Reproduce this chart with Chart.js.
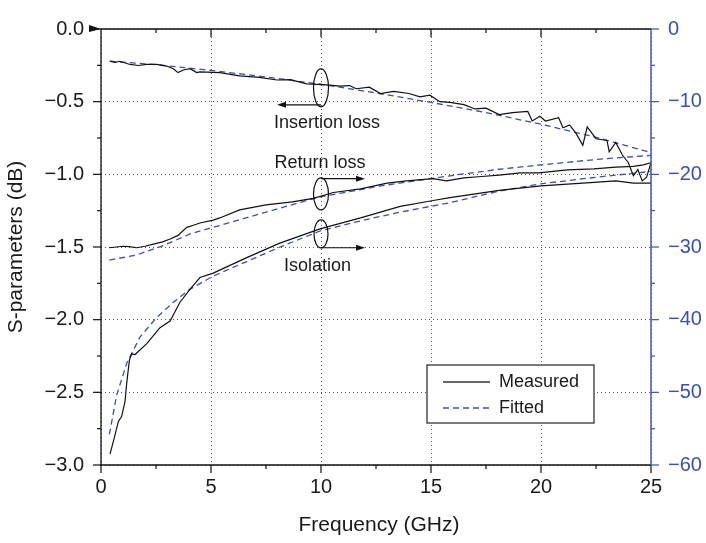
<!DOCTYPE html>
<html>
<head>
<meta charset="utf-8">
<script src="https://cdn.jsdelivr.net/npm/chart.js@4.4.1/dist/chart.umd.min.js"></script>
<style>
  body { margin: 0; background: #fff; }
  #wrap { width: 706px; height: 543px; }
</style>
</head>
<body>
<div id="wrap"><canvas id="myChart"></canvas></div>
<script>
// ---- data ----
const insMeasX = [0.4,0.64,0.86,1.32,1.7,2.08,2.53,2.98,3.29,3.5,3.74,4.05,4.35,4.5,5.4,6.3,7.2,8.0,8.6,9.35,10.26,10.86,11.3,11.6,12.2,12.7,13.3,14.0,14.5,14.95,15.4,15.86,16.5,17.0,17.5,18.1,18.7,19.4,19.6,19.95,20.2,20.8,21.0,21.3,21.6,21.9,22.1,22.5,23.0,23.1,23.4,23.7,23.97,24.2,24.4,24.6,24.8,25.0];
const insMeas = [-0.222,-0.229,-0.222,-0.244,-0.251,-0.244,-0.244,-0.255,-0.273,-0.30,-0.282,-0.273,-0.30,-0.295,-0.30,-0.322,-0.333,-0.351,-0.349,-0.378,-0.384,-0.393,-0.389,-0.411,-0.40,-0.444,-0.429,-0.444,-0.467,-0.455,-0.50,-0.505,-0.52,-0.55,-0.545,-0.589,-0.575,-0.567,-0.633,-0.60,-0.633,-0.61,-0.68,-0.66,-0.72,-0.80,-0.673,-0.755,-0.767,-0.845,-0.78,-0.867,-0.92,-1.01,-0.967,-1.045,-1.02,-0.92];

const insFitX = [0.4,2.5,5,7.5,10,12.5,15,17.5,20,22.5,25];
const insFit = [-0.222,-0.245,-0.285,-0.33,-0.38,-0.44,-0.505,-0.575,-0.655,-0.745,-0.85];

const retMeasX = [0.38,0.7,1.0,1.3,1.62,2.0,2.38,2.8,3.14,3.5,3.9,4.2,4.5,5.1,5.4,6.3,7.5,8.7,9.65,10.56,11.8,13.0,13.9,15.1,15.7,16.5,17.3,18.1,19.05,19.9,21.2,22.4,23.4,24.2,24.65,25.0];
const retMeas = [-30.1,-30.0,-29.9,-29.95,-30.1,-29.9,-29.6,-29.3,-28.9,-28.4,-27.3,-27.0,-26.7,-26.3,-26.0,-24.9,-24.2,-23.8,-23.3,-22.5,-22.0,-21.2,-20.9,-20.6,-20.9,-20.5,-20.3,-20.1,-19.8,-19.8,-19.4,-19.25,-19.0,-18.9,-18.7,-18.4];

const retFitX = [0.38,1.62,2.83,4.05,5.56,7.38,9.95,12.7,15.86,18.1,20,22.7,25];
const retFit = [-31.8,-31.1,-29.8,-28.2,-26.9,-25.3,-23.1,-21.6,-20.2,-19.3,-18.7,-17.9,-17.4];

const isoMeasX = [0.41,0.6,0.79,0.94,1.09,1.17,1.29,1.39,1.55,2.08,2.68,3.14,3.59,4.05,4.5,5.1,6.6,8.1,9.95,11.8,13.6,15.1,15.86,18.1,20,21.9,23.4,24.2,25];
const isoMeas = [-58.5,-56.3,-54,-53.3,-51.3,-48.7,-45.6,-44.7,-44.8,-43.3,-41.1,-40.2,-37.6,-35.8,-34.2,-33.6,-31.5,-29.5,-27.5,-26.0,-24.4,-23.6,-23.2,-22.2,-21.6,-21.2,-20.9,-21.2,-21.2];

const isoFitX = [0.38,0.71,1.17,1.77,2.53,3.29,4.05,5.1,6.62,8.14,9.95,11.8,13.6,15.86,18.1,20,22.5,25];
const isoFit = [-55.8,-50.4,-46,-42.4,-39.7,-37.6,-35.8,-34.0,-32.0,-30.0,-27.8,-26.4,-25.2,-23.9,-22.3,-21.3,-20.4,-19.6];

const xTicks = [0, 5, 10, 15, 20, 25];
const leftTicks = [0, -0.5, -1.0, -1.5, -2.0, -2.5, -3.0];
const rightTicks = [0, -10, -20, -30, -40, -50, -60];

const FONT = '"Liberation Sans", Arial, Helvetica, sans-serif';
const BLACK = '#111';
const BLUE = '#3b4fae';

function pairs(xs, ys) {
  let out = [];
  for (let i = 0; i < xs.length; i++) out.push({x: xs[i], y: ys[i]});
  return out;
}

function minusSign(s) {
  return String(s).replace('-', '\u2212');
}

// ---- extra drawing: frame, ticks, annotations, legend ----
const decor = {
  id: 'decor',
  afterDraw(chart) {
    const ctx = chart.ctx;
    const a = chart.chartArea;
    const xs = chart.scales.x, ys = chart.scales.y, y2 = chart.scales.y2;
    ctx.save();

    // frame lines
    ctx.lineWidth = 1.3;
    ctx.strokeStyle = BLACK;
    ctx.beginPath();
    ctx.moveTo(a.left, a.top); ctx.lineTo(a.right, a.top);
    ctx.moveTo(a.left, a.top); ctx.lineTo(a.left, a.bottom);
    ctx.moveTo(a.left - 1, a.bottom); ctx.lineTo(a.right, a.bottom);
    ctx.stroke();

    // little marker at top-left
    ctx.fillStyle = BLACK;
    ctx.beginPath();
    ctx.moveTo(a.left - 12, a.top - 4);
    ctx.lineTo(a.left, a.top);
    ctx.lineTo(a.left - 12, a.top + 3);
    ctx.closePath();
    ctx.fill();

    // x ticks, bottom outward, top inward
    ctx.lineWidth = 1.2;
    for (let v = 0; v <= 25; v += 2.5) {
      const px = xs.getPixelForValue(v);
      const len = (v % 5 === 0) ? 8 : 4;
      ctx.beginPath();
      ctx.moveTo(px, a.bottom); ctx.lineTo(px, a.bottom + len);
      if (v > 0 && v < 25) { ctx.moveTo(px, a.top); ctx.lineTo(px, a.top + len); }
      ctx.stroke();
    }
    // left ticks
    for (let v = 0; v >= -3; v -= 0.25) {
      const py = ys.getPixelForValue(v);
      const len = (Math.abs(v * 2) % 1 === 0) ? 8 : 4;
      ctx.beginPath();
      ctx.moveTo(a.left, py); ctx.lineTo(a.left - len, py);
      ctx.stroke();
    }
    // right axis in blue
    ctx.strokeStyle = BLUE;
    ctx.lineWidth = 1.4;
    ctx.beginPath();
    ctx.moveTo(a.right, a.top); ctx.lineTo(a.right, a.bottom);
    ctx.stroke();
    ctx.lineWidth = 1.2;
    for (let v = 0; v >= -60; v -= 5) {
      const py = y2.getPixelForValue(v);
      const len = (v % 10 === 0) ? 8 : 4;
      ctx.beginPath();
      ctx.moveTo(a.right, py); ctx.lineTo(a.right + len, py);
      ctx.stroke();
    }

    // axis titles
    ctx.fillStyle = '#1a1a1a';
    ctx.font = '21px ' + FONT;
    ctx.textAlign = 'center';
    ctx.textBaseline = 'middle';
    ctx.fillText('Frequency (GHz)', (a.left + a.right) / 2 + 3, 525);
    ctx.save();
    ctx.translate(16, (a.top + a.bottom) / 2);
    ctx.rotate(-Math.PI / 2);
    ctx.fillText('S-parameters (dB)', 0, 0);
    ctx.restore();

    // ellipses and arrows
    function ellipse(cx, cy, rx, ry) {
      ctx.beginPath();
      ctx.ellipse(cx, cy, rx, ry, 0, 0, Math.PI * 2);
      ctx.stroke();
    }
    function arrow(x1, y, x2) {
      const dir = Math.sign(x2 - x1);
      ctx.beginPath();
      ctx.moveTo(x1, y); ctx.lineTo(x2 - dir * 7, y);
      ctx.stroke();
      ctx.beginPath();
      ctx.moveTo(x2, y);
      ctx.lineTo(x2 - dir * 9, y - 3);
      ctx.lineTo(x2 - dir * 9, y + 3);
      ctx.closePath();
      ctx.fill();
    }
    ctx.strokeStyle = BLACK;
    ctx.fillStyle = BLACK;
    ctx.lineWidth = 1.2;
    const cx = xs.getPixelForValue(10);

    ellipse(cx, ys.getPixelForValue(-0.405), 7.5, 19);
    arrow(cx, ys.getPixelForValue(-0.522), xs.getPixelForValue(8.0));

    ellipse(cx, y2.getPixelForValue(-22.7), 7.5, 16);
    arrow(cx, y2.getPixelForValue(-20.6), xs.getPixelForValue(12.0));

    ellipse(cx, y2.getPixelForValue(-28.2), 7, 14);
    arrow(cx, y2.getPixelForValue(-30.1), xs.getPixelForValue(12.0));

    ctx.fillStyle = '#1a1a1a';
    ctx.font = '18px ' + FONT;
    ctx.fillText('Insertion loss', xs.getPixelForValue(10.27), ys.getPixelForValue(-0.647));
    ctx.fillText('Return loss', xs.getPixelForValue(9.95), y2.getPixelForValue(-18.44));
    ctx.fillText('Isolation', xs.getPixelForValue(9.84), y2.getPixelForValue(-32.6));

    // legend box
    ctx.strokeStyle = '#222';
    ctx.lineWidth = 1.2;
    ctx.fillStyle = '#fff';
    ctx.fillRect(427, 365, 167, 58);
    ctx.strokeRect(427, 365, 167, 58);
    ctx.strokeStyle = '#333';
    ctx.lineWidth = 1.4;
    ctx.beginPath(); ctx.moveTo(443, 382); ctx.lineTo(490, 382); ctx.stroke();
    ctx.strokeStyle = BLUE;
    ctx.setLineDash([6, 4]);
    ctx.beginPath(); ctx.moveTo(443, 408); ctx.lineTo(490, 408); ctx.stroke();
    ctx.setLineDash([]);
    ctx.fillStyle = '#1a1a1a';
    ctx.textAlign = 'left';
    ctx.fillText('Measured', 499, 382);
    ctx.fillText('Fitted', 499, 408);

    ctx.restore();
  }
};

function lineSet(data, axis, fitted) {
  return {
    data: data,
    yAxisID: axis,
    borderColor: fitted ? BLUE : BLACK,
    borderWidth: fitted ? 1.3 : 1.2,
    borderDash: fitted ? [6, 4] : [],
    pointRadius: 0,
    tension: 0,
    fill: false
  };
}

new Chart(document.getElementById('myChart').getContext('2d'), {
  type: 'line',
  data: {
    datasets: [
      lineSet(pairs(insMeasX, insMeas), 'y', false),
      lineSet(pairs(retMeasX, retMeas), 'y2', false),
      lineSet(pairs(isoMeasX, isoMeas), 'y2', false),
      lineSet(pairs(insFitX, insFit), 'y', true),
      lineSet(pairs(retFitX, retFit), 'y2', true),
      lineSet(pairs(isoFitX, isoFit), 'y2', true)
    ]
  },
  options: {
    responsive: true,
    maintainAspectRatio: false,
    animation: false,
    layout: { padding: { top: 15, left: 0, right: 0, bottom: 0 } },
    plugins: { legend: { display: false }, tooltip: { enabled: false } },
    scales: {
      x: {
        type: 'linear', min: 0, max: 25,
        afterFit: s => { s.height = 78; },
        afterBuildTicks: s => { s.ticks = xTicks.map(v => ({value: v})); },
        grid: { color: '#555', lineWidth: 1, drawTicks: false },
        border: { display: false, dash: [1, 3] },
        ticks: { color: '#1a1a1a', font: { family: FONT, size: 20 }, padding: 10, maxRotation: 0 }
      },
      y: {
        type: 'linear', position: 'left', min: -3, max: 0,
        afterFit: s => { s.width = 101; },
        afterBuildTicks: s => { s.ticks = leftTicks.map(v => ({value: v})); },
        grid: { color: '#555', lineWidth: 1, drawTicks: false },
        border: { display: false, dash: [1, 3] },
        ticks: { color: '#1a1a1a', font: { family: FONT, size: 20 }, padding: 17,
                 callback: v => minusSign(v.toFixed(1)) }
      },
      y2: {
        type: 'linear', position: 'right', min: -60, max: 0,
        afterFit: s => { s.width = 55; },
        afterBuildTicks: s => { s.ticks = rightTicks.map(v => ({value: v})); },
        grid: { display: false, drawTicks: false },
        border: { display: false },
        ticks: { color: BLUE, font: { family: FONT, size: 20 }, padding: 17,
                 callback: v => minusSign(v) }
      }
    }
  },
  plugins: [decor]
});
</script>
</body>
</html>
